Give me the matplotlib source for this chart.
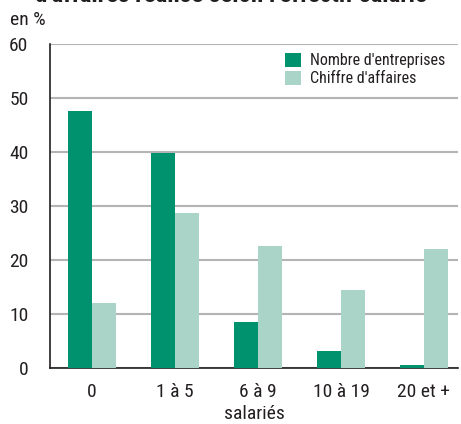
import matplotlib.pyplot as plt
import numpy as np

# Données
categories = ["0", "1 à 5", "6 à 9", "10 à 19", "20 et +"]
nb_entreprises = [47.6, 39.8, 8.5, 3.1, 0.5]
chiffre_affaires = [12.0, 28.7, 22.6, 14.4, 22.0]
yticks = [0, 10, 20, 30, 40, 50, 60]

plt.rcParams['font.family'] = ['Roboto Condensed', 'Archivo Narrow', 'DejaVu Sans']

dark = "#00926e"
light = "#a9d4c7"
txt = "#231f20"

fig = plt.figure(figsize=(4.61, 4.24), dpi=100)
ax = fig.add_axes([50 / 461, 1 - 368 / 424, 408 / 461, 324 / 424])

x = np.arange(len(categories))
w = 0.29
ax.bar(x - w / 2, nb_entreprises, w, color=dark, label="Nombre d'entreprises", zorder=3)
ax.bar(x + w / 2, chiffre_affaires, w, color=light, label="Chiffre d'affaires", zorder=3)

ax.set_ylim(0, 60)
ax.set_xlim(-0.506, 4.41)
ax.set_yticks(yticks)
ax.set_xticks(x)
ax.set_xticklabels(categories)
ax.yaxis.grid(True, color="#b4b4b4", linewidth=1.5, zorder=0)
ax.tick_params(length=0, labelsize=14, colors=txt)
ax.tick_params(axis="x", pad=11)
ax.tick_params(axis="y", pad=15.5)
for s in ["top", "right"]:
    ax.spines[s].set_visible(False)
for s in ["left", "bottom"]:
    ax.spines[s].set_color(txt)
    ax.spines[s].set_linewidth(1.2)

ax.set_xlabel("salariés", fontsize=14, color=txt, labelpad=3)

leg = ax.legend(loc="upper left", bbox_to_anchor=(235 / 408, 315 / 324), frameon=False,
                fontsize=11.5, handlelength=1.0, handleheight=0.95,
                handletextpad=0.55, labelspacing=0.15, borderpad=0, borderaxespad=0)
for t in leg.get_texts():
    t.set_color(txt)

fig.text(10 / 461, 1 - 20 / 424, "en %", fontsize=14, color=txt, va="center")
fig.text(0.5, 1 - 2 / 424, "d'affaires réalisé selon l'effectif salarié", fontsize=18,
         fontweight="bold", ha="center", va="baseline", color=txt)

fig.savefig("out.png", dpi=100)
